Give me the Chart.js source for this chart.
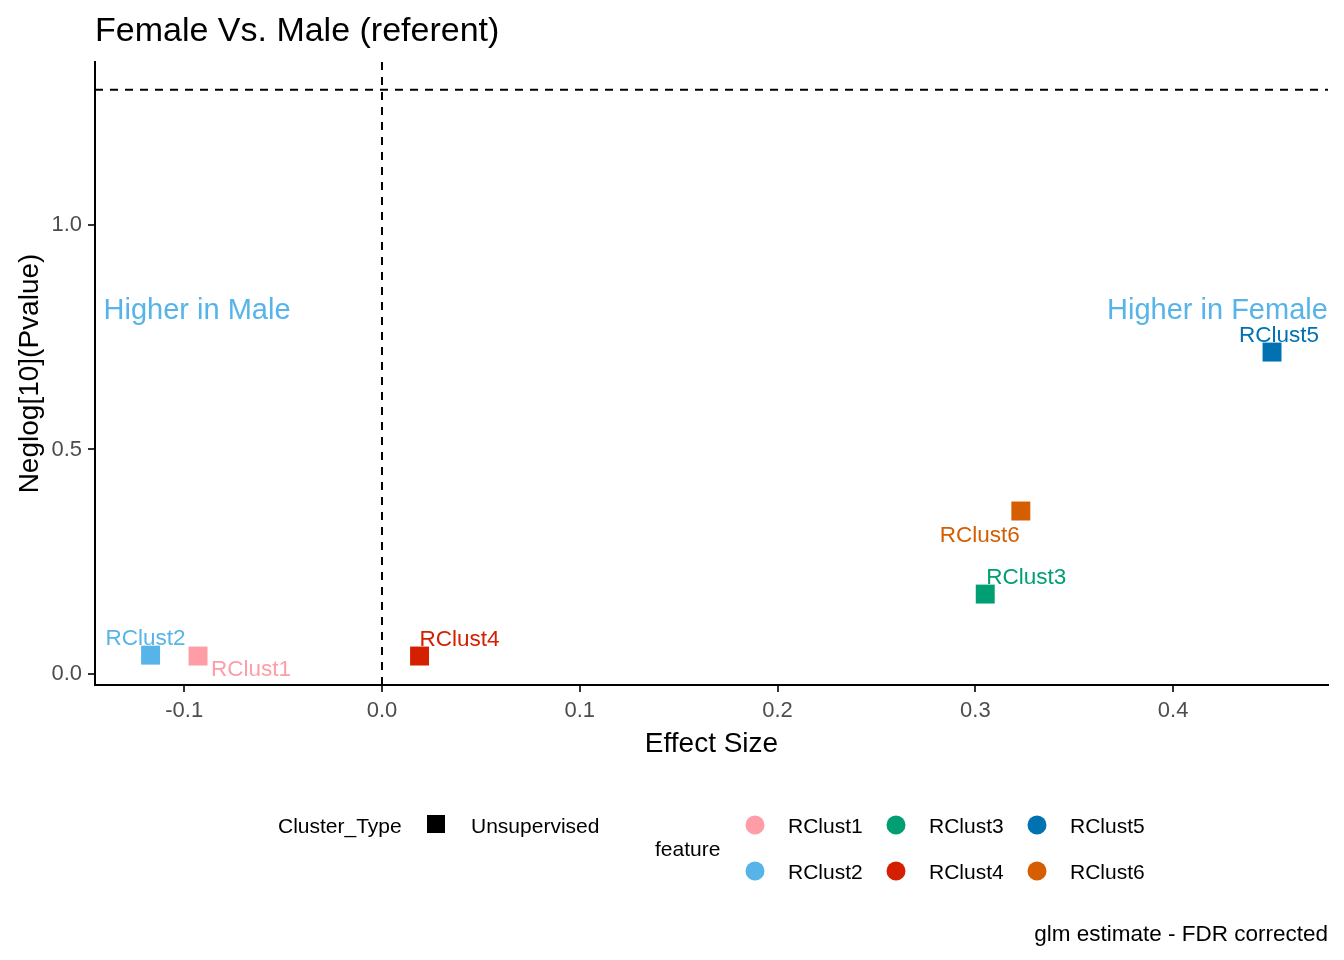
<!DOCTYPE html>
<html>
<head>
<meta charset="utf-8">
<script src="https://cdn.jsdelivr.net/npm/chart.js@4.4.1/dist/chart.umd.min.js"></script>
<style>
  body { margin: 0; background: #fff; }
  canvas { display: block; }
</style>
</head>
<body>
<canvas id="volcano" width="1344" height="960"></canvas>
<script>
// data
const features = ["RClust1", "RClust2", "RClust3", "RClust4", "RClust5", "RClust6"];
const effectSize = [-0.093, -0.117, 0.305, 0.019, 0.450, 0.323];
const negLogP = [0.040, 0.042, 0.178, 0.040, 0.717, 0.363];
const featureColors = ["#FF9DA7", "#56B4E9", "#009E73", "#D42000", "#0072B2", "#D55E00"];
const pCutoff = 1.301; // -log10(0.05)
const xRange = [-0.1451, 0.4783];
const yRange = [-0.0245, 1.363];

// label nudges (px) roughly where ggrepel put them
const labelOffsets = [[53, 14], [-5, -16], [41, -16], [40, -16], [7, -16], [-41, 25]];

const FONT = "'Liberation Sans', Arial, sans-serif";

const pointSets = features.map((f, i) => ({
    label: f,
    data: [{ x: effectSize[i], y: negLogP[i] }],
    backgroundColor: featureColors[i],
    borderWidth: 0,
    pointStyle: "rect",
    pointRadius: 13.4,
    pointHoverRadius: 13.4
}));

const refLines = [
    {
        label: "p cutoff",
        type: "line",
        data: [{ x: xRange[0], y: pCutoff }, { x: xRange[1], y: pCutoff }],
        borderColor: "#000",
        borderWidth: 2,
        borderDash: [8, 7],
        pointRadius: 0
    },
    {
        label: "zero",
        type: "line",
        data: [{ x: 0, y: yRange[0] }, { x: 0, y: yRange[1] }],
        borderColor: "#000",
        borderWidth: 2,
        borderDash: [8, 7],
        pointRadius: 0
    }
];

// text layer: title, axis titles, point labels, annotations, legend, caption
const textLayer = {
    id: "textLayer",
    afterDraw(chart) {
        const ctx = chart.ctx;
        const xs = chart.scales.x, ys = chart.scales.y;
        const area = chart.chartArea;
        ctx.save();
        ctx.textBaseline = "middle";

        // title
        ctx.fillStyle = "#000";
        ctx.font = "34px " + FONT;
        ctx.textAlign = "left";
        ctx.fillText("Female Vs. Male (referent)", area.left, 32);

        // axis titles
        ctx.font = "28px " + FONT;
        ctx.textAlign = "center";
        ctx.fillText("Effect Size", (area.left + area.right) / 2, 744);
        ctx.save();
        ctx.translate(30, (area.top + area.bottom) / 2);
        ctx.rotate(-Math.PI / 2);
        ctx.fillText("Neglog[10](Pvalue)", 0, 0);
        ctx.restore();

        // annotations
        ctx.font = "29px " + FONT;
        ctx.fillStyle = "#56B4E9";
        ctx.fillText("Higher in Male", xs.getPixelForValue(-0.0935), ys.getPixelForValue(0.813) + 2);
        ctx.fillText("Higher in Female", xs.getPixelForValue(0.4224), ys.getPixelForValue(0.813) + 2);

        // point labels
        ctx.font = "22.5px " + FONT;
        features.forEach((f, i) => {
            const px = xs.getPixelForValue(effectSize[i]);
            const py = ys.getPixelForValue(negLogP[i]);
            ctx.fillStyle = featureColors[i];
            ctx.fillText(f, px + labelOffsets[i][0], py + labelOffsets[i][1]);
        });

        // legend: Cluster_Type
        ctx.font = "21px " + FONT;
        ctx.fillStyle = "#000";
        ctx.textAlign = "left";
        ctx.fillText("Cluster_Type", 278, 827);
        ctx.fillRect(427, 815, 18, 18);
        ctx.fillText("Unsupervised", 471, 827);

        // legend: feature
        ctx.fillText("feature", 655, 850);
        const colX = [755, 896, 1037];
        const rowY = [825, 871];
        features.forEach((f, i) => {
            const cx = colX[Math.floor(i / 2)];
            const cy = rowY[i % 2];
            ctx.fillStyle = featureColors[i];
            ctx.beginPath();
            ctx.arc(cx, cy, 9.5, 0, Math.PI * 2);
            ctx.fill();
            ctx.fillStyle = "#000";
            ctx.fillText(f, cx + 33, cy + 2);
        });

        // caption
        ctx.font = "22.5px " + FONT;
        ctx.textAlign = "right";
        ctx.fillText("glm estimate - FDR corrected", area.right, 935);
        ctx.restore();
    }
};

new Chart(document.getElementById("volcano").getContext("2d"), {
    type: "scatter",
    data: { datasets: [...refLines, ...pointSets] },
    options: {
        responsive: false,
        animation: false,
        layout: { padding: { top: 62, right: 16, bottom: 215, left: 0 } },
        plugins: {
            legend: { display: false },
            title: { display: false },
            tooltip: { enabled: false }
        },
        scales: {
            x: {
                type: "linear",
                min: xRange[0],
                max: xRange[1],
                afterFit: s => { s.height = 60; },
                border: { display: true, color: "#000", width: 2 },
                grid: { drawOnChartArea: false, drawTicks: true, tickLength: 7, color: "#333", lineWidth: 2 },
                ticks: {
                    stepSize: 0.1,
                    includeBounds: false,
                    padding: 6,
                    color: "#4D4D4D",
                    font: { family: FONT, size: 22 },
                    callback: v => v.toFixed(1)
                }
            },
            y: {
                type: "linear",
                min: yRange[0],
                max: yRange[1],
                afterFit: s => { s.width = 95; },
                border: { display: true, color: "#000", width: 2 },
                grid: { drawOnChartArea: false, drawTicks: true, tickLength: 7, color: "#333", lineWidth: 2 },
                ticks: {
                    stepSize: 0.5,
                    includeBounds: false,
                    padding: 6,
                    color: "#4D4D4D",
                    font: { family: FONT, size: 22 },
                    callback: v => v.toFixed(1)
                }
            }
        }
    },
    plugins: [textLayer]
});
</script>
</body>
</html>
